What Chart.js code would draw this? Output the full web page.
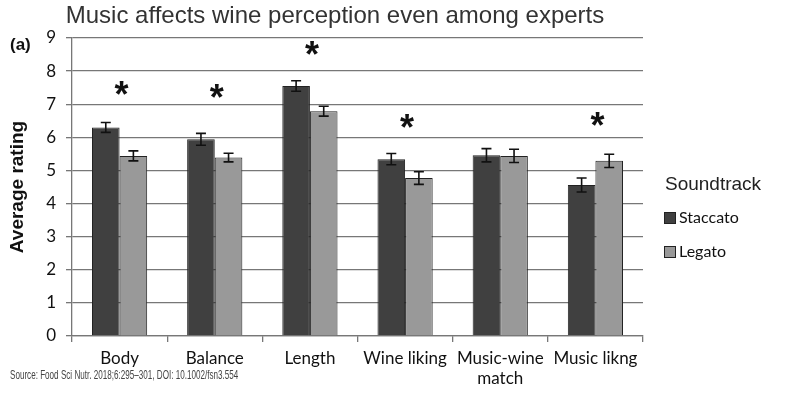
<!DOCTYPE html>
<html>
<head>
<meta charset="utf-8">
<script src="https://cdn.jsdelivr.net/npm/chart.js@4.4.0/dist/chart.umd.min.js"></script>
<style>
  body { margin: 0; background: #fff; }
  #wrap { position: relative; width: 800px; height: 399px; overflow: hidden; }
  #chart { position: absolute; left: 0; top: 0; }
  .txt { position: absolute; white-space: nowrap; }
  #title { left: 0; width: 670px; top: 1px; text-align: center; font: 24px "Liberation Sans", Arial, sans-serif; color: #333; }
  #tag { left: 10px; top: 35px; font: bold 17px "Liberation Sans", Arial, sans-serif; color: #111; }
  #source { left: 10px; top: 367px; font: 13.5px "Liberation Sans", Arial, sans-serif; color: #444; transform: scaleX(0.6); transform-origin: 0 0; }
  #legTitle { left: 665px; top: 173px; font: 19px "Liberation Sans", Arial, sans-serif; color: #222; }
  .legItem { left: 664px; font: 16px Lato, sans-serif; color: #111; }
  .legItem span.box { display: inline-block; width: 10px; height: 10px; border: 1px solid #222; margin-right: 3px; vertical-align: -1px; }
</style>
</head>
<body>
<div id="wrap">
  <canvas id="chart" width="800" height="399"></canvas>
  <div id="title" class="txt">Music affects wine perception even among experts</div>
  <div id="tag" class="txt">(a)</div>
  <div id="source" class="txt">Source: Food Sci Nutr. 2018;6:295–301, DOI: 10.1002/fsn3.554</div>
  <div id="legTitle" class="txt">Soundtrack</div>
  <div id="legend"></div>
</div>
<script>
'use strict';
const categories = ['Body', 'Balance', 'Length', 'Wine liking', ['Music-wine', 'match'], 'Music likng'];
const seriesNames = ['Staccato', 'Legato'];
const staccato = [6.30, 5.94, 7.55, 5.34, 5.46, 4.56];
const legato = [5.44, 5.39, 6.79, 4.77, 5.44, 5.29];
const staccatoErr = [0.15, 0.18, 0.16, 0.17, 0.20, 0.21];
const legatoErr = [0.15, 0.13, 0.15, 0.19, 0.20, 0.20];
// star marks (significance), value = vertical position on rating scale, null = none
const starLevels = [7.5, 7.4, 8.7, 6.5, null, 6.55];
const yTicks = [0, 1, 2, 3, 4, 5, 6, 7, 8, 9];

const colors = ['#404040', '#999999'];
const errs = [staccatoErr, legatoErr];

const errorBars = {
    id: 'errorBars',
    afterDatasetsDraw(chart) {
        const ctx = chart.ctx;
        const y = chart.scales.y;
        ctx.save();
        ctx.strokeStyle = '#111';
        ctx.lineWidth = 1.6;
        chart.data.datasets.forEach((ds, i) => {
            const meta = chart.getDatasetMeta(i);
            meta.data.forEach((bar, j) => {
                const v = ds.data[j], e = errs[i][j];
                const top = y.getPixelForValue(v + e), bot = y.getPixelForValue(v - e);
                const x = bar.x;
                ctx.beginPath();
                ctx.moveTo(x, top); ctx.lineTo(x, bot);
                ctx.moveTo(x - 5, top); ctx.lineTo(x + 5, top);
                ctx.moveTo(x - 5, bot); ctx.lineTo(x + 5, bot);
                ctx.stroke();
            });
        });
        // significance stars
        ctx.fillStyle = '#111';
        ctx.font = 'bold 36px "Liberation Sans", Arial, sans-serif';
        ctx.textAlign = 'center';
        ctx.textBaseline = 'middle';
        starLevels.forEach((lv, j) => {
            if (lv === null) return;
            const x = chart.scales.x.getPixelForValue(j);
            ctx.fillText('*', x + 2, y.getPixelForValue(lv) + 9);
        });
        ctx.restore();
    }
};

new Chart(document.getElementById('chart'), {
    type: 'bar',
    data: {
        labels: categories,
        datasets: [
            { label: seriesNames[0], data: staccato, backgroundColor: colors[0], borderColor: '#222', borderWidth: 1 },
            { label: seriesNames[1], data: legato, backgroundColor: colors[1], borderColor: '#222', borderWidth: 1 }
        ]
    },
    options: {
        responsive: false,
        animation: false,
        layout: { padding: { top: 38, right: 157, left: 0, bottom: 0 } },
        datasets: { bar: { categoryPercentage: 0.58, barPercentage: 1.0 } },
        plugins: { legend: { display: false }, tooltip: { enabled: false } },
        scales: {
            x: {
                grid: { drawOnChartArea: false, drawTicks: true, tickLength: 6, color: '#777', lineWidth: 1.3 },
                border: { color: '#777', width: 1.3 },
                ticks: { color: '#111', font: { family: 'Lato', size: 17 }, padding: 6, maxRotation: 0, autoSkip: false },
                afterFit(scale) { scale.height = 63; }
            },
            y: {
                min: 0, max: 9,
                afterBuildTicks(scale) { scale.ticks = yTicks.map(v => ({ value: v })); },
                grid: { color: '#777', lineWidth: 1.3, tickLength: 6 },
                border: { color: '#777', width: 1.3 },
                ticks: { color: '#111', font: { family: 'Lato', size: 17 }, padding: 10 },
                title: { display: true, text: 'Average rating', color: '#111', font: { family: 'Liberation Sans', size: 19, weight: 'bold' }, padding: { top: 6, bottom: 0 } },
                afterFit(scale) { scale.width = 72; }
            }
        }
    },
    plugins: [errorBars]
});

const legend = document.getElementById('legend');
seriesNames.forEach((name, i) => {
    const d = document.createElement('div');
    d.className = 'txt legItem';
    d.style.top = (207 + i * 34) + 'px';
    d.innerHTML = '<span class="box" style="background:' + colors[i] + '"></span>' + name;
    legend.appendChild(d);
});
</script>
</body>
</html>
